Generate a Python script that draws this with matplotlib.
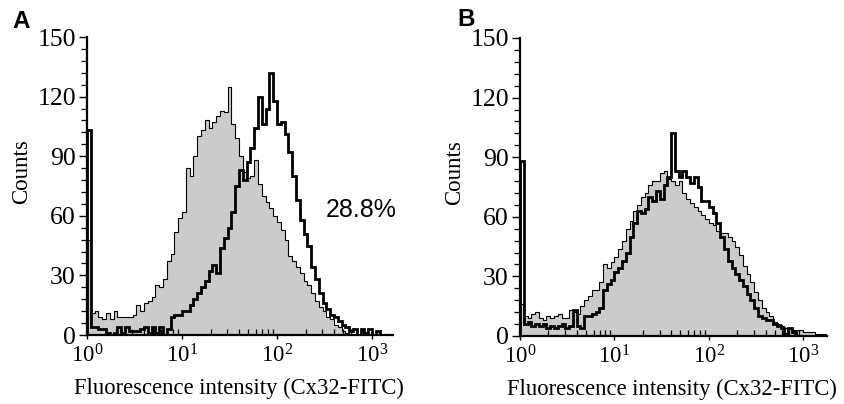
import matplotlib.pyplot as plt
import numpy as np
from matplotlib.ticker import FixedLocator, LogLocator, MultipleLocator, NullFormatter

# Histogram channels: each bin spans BIN_LOG_WIDTH decades, starting at 10^0
BIN_LOG_WIDTH = 0.04

# Panel A: control (grey, filled) and Cx32-stained (black line)
A_CONTROL = [
    48, 11, 12, 9, 8, 11, 8, 12, 9, 9,
    9, 9, 10, 15, 12, 16, 17, 19, 25, 24,
    28, 37, 41, 52, 59, 62, 84, 80, 90, 100,
    103, 108, 104, 107, 110, 113, 112, 125, 106, 99,
    90, 82, 79, 80, 88, 76, 70, 67, 64, 60,
    57, 53, 48, 40, 37, 34, 31, 27, 25, 21,
    17, 14, 12, 9, 8, 5, 4, 2, 1, 0,
    0, 0, 0, 0, 0, 0, 0, 0, 0, 0, 0,
]
A_CX32 = [
    103, 4, 4, 3, 3, 1, 0, 1, 4, 1,
    4, 2, 2, 2, 3, 4, 1, 4, 1, 4,
    0, 3, 9, 10, 10, 12, 12, 15, 18, 21,
    24, 27, 32, 35, 31, 44, 49, 54, 62, 75,
    83, 78, 87, 94, 104, 120, 106, 114, 132, 118,
    106, 107, 101, 92, 80, 68, 58, 51, 45, 34,
    28, 21, 16, 13, 10, 9, 7, 5, 4, 2,
    3, 0, 3, 1, 3, 0, 2, 0, 0, 0, 0,
]

# Panel B
B_CONTROL = [
    16, 10, 9, 11, 12, 9, 8, 10, 9, 10,
    11, 9, 9, 13, 12, 11, 15, 18, 20, 23,
    23, 27, 36, 34, 37, 40, 44, 48, 54, 58,
    63, 66, 70, 72, 76, 78, 78, 82, 83, 79,
    78, 76, 78, 72, 69, 67, 65, 63, 61, 59,
    57, 56, 53, 52, 52, 50, 48, 45, 41, 35,
    31, 27, 22, 18, 14, 12, 10, 7, 6, 5,
    4, 4, 3, 3, 3, 2, 2, 2, 1, 1, 1,
]
B_CX32 = [
    88, 6, 7, 5, 6, 5, 6, 4, 5, 4,
    5, 6, 4, 5, 13, 5, 4, 10, 10, 11,
    12, 14, 23, 26, 28, 32, 34, 38, 42, 50,
    57, 63, 62, 64, 70, 68, 73, 69, 76, 80,
    102, 83, 80, 83, 80, 77, 80, 75, 68, 68,
    65, 62, 57, 50, 44, 38, 34, 31, 28, 25,
    21, 18, 14, 10, 9, 8, 8, 6, 5, 4,
    1, 4, 2, 0, 0, 0, 0, 0, 0, 0, 0,
]

X_TICKS = [1, 10, 100, 1000]
X_TICK_LABELS = [r"$10^{0}$", r"$10^{1}$", r"$10^{2}$", r"$10^{3}$"]
Y_TICKS = [0, 30, 60, 90, 120, 150]
X_LABEL = "Fluorescence intensity (Cx32-FITC)"
Y_LABEL = "Counts"

FILL_GREY = "#cbcbcb"
SERIF = "Liberation Serif"
SANS = "Liberation Sans"

plt.rcParams["font.family"] = SERIF
plt.rcParams["mathtext.fontset"] = "custom"
plt.rcParams["mathtext.rm"] = SERIF
plt.rcParams["mathtext.it"] = SERIF


def draw_panel(ax, control, sample, xmax_log):
    edges = 10 ** (np.arange(len(control) + 1) * BIN_LOG_WIDTH)
    ax.stairs(control, edges, fill=True, color=FILL_GREY, zorder=1)
    ax.stairs(control, edges, color="black", linewidth=0.8, zorder=2)
    ax.stairs(sample, edges, color="black", linewidth=2.0, zorder=3)

    ax.set_xscale("log")
    ax.set_xlim(1, 10 ** xmax_log)
    ax.set_ylim(0, 150)

    for side in ("top", "right"):
        ax.spines[side].set_visible(False)
    ax.spines["left"].set_linewidth(1.6)
    ax.spines["bottom"].set_linewidth(1.6)

    ax.xaxis.set_major_locator(FixedLocator(X_TICKS))
    ax.set_xticklabels(X_TICK_LABELS)
    ax.xaxis.set_minor_locator(LogLocator(base=10, subs=np.arange(2, 10)))
    ax.xaxis.set_minor_formatter(NullFormatter())
    ax.tick_params(axis="x", which="major", direction="out", length=3, width=1,
                   labelsize=16.5, pad=4)
    ax.tick_params(axis="x", which="minor", direction="in", length=4, width=0.9)

    ax.yaxis.set_major_locator(FixedLocator(Y_TICKS))
    ax.yaxis.set_minor_locator(MultipleLocator(6))
    ax.tick_params(axis="y", which="major", direction="out", length=6, width=1,
                   labelsize=18.5, pad=2)
    ax.tick_params(axis="y", which="minor", direction="out", length=4, width=0.9)

    ax.set_xlabel(X_LABEL, fontsize=16.3)
    ax.xaxis.set_label_coords(0.495, -0.145)
    ax.set_ylabel(Y_LABEL, fontsize=16.5)
    ax.yaxis.set_label_coords(-0.18, 0.55)


W, H = 845, 404
fig = plt.figure(figsize=(W / 100, H / 100), dpi=100)

ax_a = fig.add_axes([87 / W, (H - 335) / H, (393 - 87) / W, (335 - 37) / H])
draw_panel(ax_a, A_CONTROL, A_CX32, 3.22)
ax_a.text(0.895, 0.42, "28.8%", transform=ax_a.transAxes, family=SANS,
          fontsize=18, ha="center", va="center")

ax_b = fig.add_axes([520 / W, (H - 336) / H, (827 - 520) / W, (336 - 38) / H])
draw_panel(ax_b, B_CONTROL, B_CX32, 3.25)

fig.text(12 / W, 1 - 21 / H, "A", family=SANS, fontweight="bold", fontsize=17.5,
         ha="left", va="center")
fig.text(457 / W, 1 - 20 / H, "B", family=SANS, fontweight="bold", fontsize=17.5,
         ha="left", va="center")

fig.savefig("out.png", dpi=100)
